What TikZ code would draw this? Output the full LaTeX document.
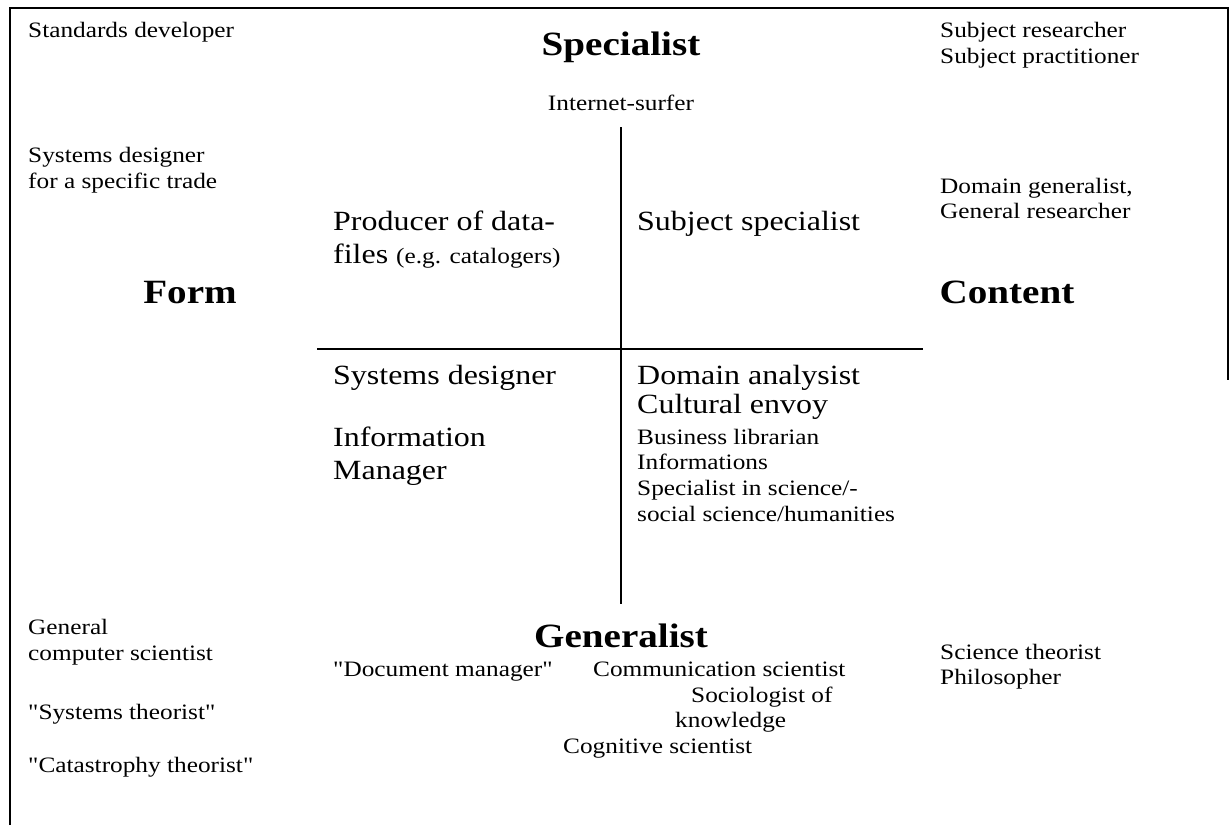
\documentclass[tikz,border=0pt]{standalone}
\usepackage{fontspec}
\setmainfont{Liberation Serif}[FakeStretch=1.15, Ligatures=TeXOff]
\begin{document}
\begin{tikzpicture}[x=1pt,y=-1pt,
  sm/.style={font=\fontsize{22}{25.5}\selectfont, inner sep=0pt, anchor=base west},
  smc/.style={sm, anchor=base},
  lg/.style={font=\fontsize{27.8}{32}\selectfont, inner sep=0pt, anchor=base west},
  hd/.style={font=\fontsize{34}{38}\selectfont\bfseries, inner sep=0pt, anchor=base},
  frame/.style={line width=1.6pt},
  axis/.style={line width=2pt}]
\useasboundingbox (0,0) rectangle (1229,825);
% frame
\coordinate (fl) at (10,825);
\coordinate (ftl) at (10,8);
\coordinate (ftr) at (1228,8);
\coordinate (fr) at (1228,380);
\draw[frame] (fl) -- (ftl) -- (ftr) -- (fr);
% axes
\coordinate (vt) at (621,127);
\coordinate (vb) at (621,604);
\coordinate (hl) at (317,349);
\coordinate (hr) at (923,349);
\draw[axis] (vt) -- (vb);
\draw[axis] (hl) -- (hr);
% headings
\node[hd] (spec) at (621,55) {Specialist};
\node[hd] (form) at (190,303) {Form};
\node[hd] (cont) at (1007,303) {Content};
\node[hd] (gen) at (621,647) {Generalist};
% corners
\node[sm] (sd) at (28,37) {Standards developer};
\node[sm] (sr1) at (940,37) {Subject researcher};
\node[sm] (sr2) at (940,63) {Subject practitioner};
\node[smc] (is) at (621,110) {Internet-surfer};
\node[sm] (sys1) at (28,162) {Systems designer};
\node[sm] (sys2) at (28,188) {for a specific trade};
\node[sm] (dg1) at (940,193) {Domain generalist,};
\node[sm] (dg2) at (940,218) {General researcher};
\node[sm] (gc1) at (28,634) {General};
\node[sm] (gc2) at (28,660) {computer scientist};
\node[sm] (st) at (28,719) {"Systems theorist"};
\node[sm] (ct) at (28,772) {"Catastrophy theorist"};
\node[sm] (sc1) at (940,659) {Science theorist};
\node[sm] (sc2) at (940,684) {Philosopher};
% quadrants
\node[lg] (pd1) at (333,230) {Producer of data-};
\node[lg] (pd2) at (333,263) {files {\fontsize{22}{25.5}\selectfont (e.g. catalogers)}};
\node[lg] (ss) at (637,230) {Subject specialist};
\node[lg] (sdz) at (333,384) {Systems designer};
\node[lg] (im1) at (333,446) {Information};
\node[lg] (im2) at (333,479) {Manager};
\node[lg] (da) at (637,384) {Domain analysist};
\node[lg] (ce) at (637,413) {Cultural envoy};
\node[sm] (bl) at (637,444) {Business librarian};
\node[sm] (inf) at (637,469) {Informations};
\node[sm] (sp1) at (637,495) {Specialist in science/-};
\node[sm] (sp2) at (637,521) {social science/humanities};
% generalist list
\node[sm] (dm) at (333,676) {"Document manager"};
\node[sm] (cs) at (593,676) {Communication scientist};
\node[sm] (so1) at (691,702) {Sociologist of};
\node[sm] (so2) at (675,727) {knowledge};
\node[sm] (cog) at (563,753) {Cognitive scientist};
\end{tikzpicture}
\end{document}
